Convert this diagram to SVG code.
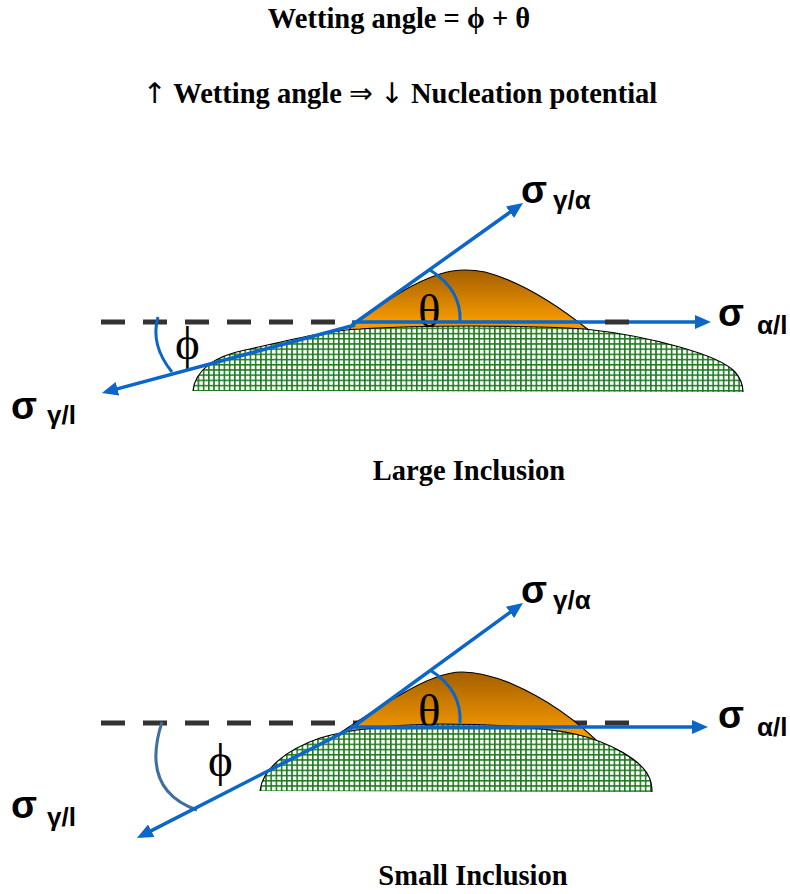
<svg xmlns="http://www.w3.org/2000/svg" width="790" height="894" viewBox="0 0 790 894">
  <defs>
    <style>
      .title { font-family: "Liberation Serif", "Times New Roman", serif; font-weight: bold; font-size: 28.5px; fill: #000; }
      .arrow { font-family: "DejaVu Sans", sans-serif; font-weight: normal; }
      .greek { font-family: "Liberation Serif", "DejaVu Serif", serif; font-size: 47px; fill: #000; }
      .sig { font-family: "Liberation Sans", Arial, sans-serif; font-weight: bold; font-size: 38px; fill: #000; }
      .sub { font-family: "Liberation Sans", Arial, sans-serif; font-weight: bold; font-size: 26px; fill: #000; }
      .dash { stroke: #333; stroke-width: 5; stroke-dasharray: 24 18; fill: none; }
      .force { stroke: #0a66c8; stroke-width: 3.5; fill: none; marker-end: url(#head); }
      .arc { stroke: #0a66c8; stroke-width: 3; fill: none; }
      .arc2 { stroke: #3f6f9f; stroke-width: 3; fill: none; }
      .cap { fill: url(#capFill); stroke: #000; stroke-width: 1.2; }
      .inc { fill: url(#grid); stroke: none; }
      .edge { fill: none; stroke: #000; stroke-width: 1.2; }
    </style>
    <marker id="head" markerWidth="16" markerHeight="14" refX="8" refY="7" orient="auto" markerUnits="userSpaceOnUse">
      <path d="M0,0 L16,7 L0,14 Z" fill="#0a66c8"/>
    </marker>
    <linearGradient id="capFill" x1="0" y1="0" x2="0" y2="1">
      <stop offset="0" stop-color="#a35f00"/>
      <stop offset="0.75" stop-color="#f39800"/>
      <stop offset="1" stop-color="#f59c00"/>
    </linearGradient>
    <pattern id="grid" width="5.2" height="5.2" patternUnits="userSpaceOnUse">
      <rect width="5.2" height="5.2" fill="#fff"/>
      <path d="M0,0.8 H5.2 M0.8,0 V5.2" stroke="#1e7b1e" stroke-width="1.6"/>
    </pattern>
  </defs>

  <rect width="790" height="894" fill="#fff"/>

  <!-- headings -->
  <g id="heading">
    <text class="title" x="399" y="28" text-anchor="middle">Wetting angle = ϕ + θ</text>
    <text class="title" x="400" y="103" text-anchor="middle"><tspan class="arrow">↑</tspan> Wetting angle <tspan class="arrow">⇒</tspan> <tspan class="arrow">↓</tspan> Nucleation potential</text>
  </g>

  <!-- large inclusion -->
  <g id="large-inclusion">
    <path class="dash" d="M101,322 H340"/>
    <path class="cap" d="M350,327 C375,310 405,285 440,274 C455,269 470,269 485,272 C520,281 555,303 590,331 L590,336 L350,336 Z"/>
    <path class="inc" d="M193,391 C195,370 215,356 245,350 C290,340 330,330 360,329 C420,325 520,325 585,329 C650,336 720,355 735,372 C742,380 743,386 743,392 Z"/>
    <path class="edge" d="M193,391 C195,370 215,356 245,350 C290,340 330,330 360,329 C420,325 520,325 585,329 C650,336 720,355 735,372 C742,380 743,386 743,392"/>
    <path class="arc" d="M158,317 Q150,345 172,372"/>
    <path class="arc" d="M430,270 Q462,290 460,322"/>
    <text class="greek" x="175" y="359">ϕ</text>
    <text class="greek" x="418" y="327">θ</text>
  </g>

  <!-- small inclusion -->
  <g id="small-inclusion">
    <path class="dash" d="M101,723 H629"/>
    <path class="cap" d="M340,733 C360,720 380,706 400,695 C425,680 445,672 462,672 C480,672 495,677 510,683 C545,698 575,718 604,748 L604,752 L340,752 Z"/>
    <path class="inc" d="M260,791 C262,770 285,750 320,738 C340,732 380,725 440,724 C500,724 540,727 575,734 C610,742 640,760 648,775 C652,782 652,787 652,792 Z"/>
    <path class="edge" d="M260,791 C262,770 285,750 320,738 C340,732 380,725 440,724 C500,724 540,727 575,734 C610,742 640,760 648,775 C652,782 652,787 652,792"/>
    <path class="arc2" d="M162,722 Q140,790 197,810"/>
    <path class="arc" d="M430,670 Q462,690 460,723"/>
    <text class="greek" x="208" y="776">ϕ</text>
    <text class="greek" x="418" y="727">θ</text>
  </g>

  <!-- surface tension vectors -->
  <g id="connectors">
    <path class="force" d="M352,325 L516.5,207.6"/>
    <path class="force" d="M352,322 L703,322"/>
    <path class="force" d="M355,325 L109.7,390.9"/>
    <path class="force" d="M350,729 L516.5,607.7"/>
    <path class="force" d="M350,727 L700,727"/>
    <path class="force" d="M350,729 L144.1,834.4"/>
    <path class="dash" d="M605,322 H629" stroke-dasharray="none"/>
  </g>

  <!-- vector labels -->
  <g id="labels">
    <text class="sig" x="521" y="203">σ</text><text class="sub" x="553" y="209">γ/α</text>
    <text class="sig" x="718" y="326">σ</text><text class="sub" x="757" y="334">α/l</text>
    <text class="sig" x="11" y="419">σ</text><text class="sub" x="47" y="424">γ/l</text>
    <text class="sig" x="521" y="603">σ</text><text class="sub" x="553" y="609">γ/α</text>
    <text class="sig" x="718" y="728">σ</text><text class="sub" x="757" y="736">α/l</text>
    <text class="sig" x="11" y="818">σ</text><text class="sub" x="47" y="826">γ/l</text>
  </g>

  <!-- captions -->
  <g id="captions">
    <text class="title" x="469" y="480" text-anchor="middle">Large Inclusion</text>
    <text class="title" x="473" y="885" text-anchor="middle">Small Inclusion</text>
  </g>
</svg>
